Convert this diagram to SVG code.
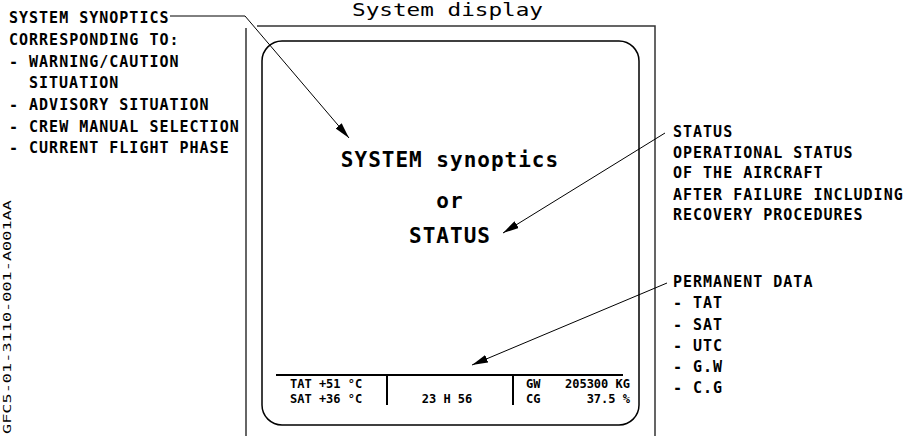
<svg xmlns="http://www.w3.org/2000/svg" width="906" height="436" viewBox="0 0 906 436">
<defs>
<style>
.lbl{font-family:"DejaVu Sans Mono","Liberation Mono",monospace;font-weight:bold;font-size:15px;letter-spacing:1px;fill:#000}
.big{font-family:"DejaVu Sans Mono","Liberation Mono",monospace;font-weight:bold;font-size:21px;letter-spacing:1px;fill:#000}
.bar{font-family:"DejaVu Sans Mono","Liberation Mono",monospace;font-weight:bold;font-size:12px;fill:#000}
.title{font-family:"DejaVu Sans Mono","Liberation Mono",monospace;font-size:17px;fill:#000}
.ref{font-family:"DejaVu Sans Mono","Liberation Mono",monospace;font-size:11px;fill:#000}
.frame{fill:none;stroke:#333;stroke-width:1.5}
.screen{fill:none;stroke:#000;stroke-width:1.5}
.div{stroke:#000;stroke-width:2}
.lead{fill:none;stroke:#000;stroke-width:1}
</style>
<marker id="ah" markerWidth="16" markerHeight="8" refX="16" refY="4" orient="auto" markerUnits="userSpaceOnUse">
<path d="M0,0 L16,4 L0,8 z" fill="#000"/>
</marker>
</defs>

<text class="title" x="352" y="16" textLength="191" lengthAdjust="spacingAndGlyphs">System display</text>

<g id="display-frame">
<path class="frame" d="M257,26 H655 V436"/>
<line class="frame" x1="246" y1="28" x2="246" y2="436"/>
<rect class="screen" x="262" y="41" width="377" height="384" rx="20" ry="20"/>
</g>

<g id="screen-content">
<text class="big" x="450" y="167" text-anchor="middle">SYSTEM synoptics</text>
<text class="big" x="450" y="208" text-anchor="middle">or</text>
<text class="big" x="450" y="243" text-anchor="middle">STATUS</text>
</g>

<g id="permanent-data-bar">
<line class="div" x1="276" y1="375" x2="623" y2="375"/>
<line class="div" x1="387" y1="375" x2="387" y2="405"/>
<line class="div" x1="513" y1="375" x2="513" y2="405"/>
<text class="bar" x="290" y="388">TAT +51 °C</text>
<text class="bar" x="290" y="403">SAT +36 °C</text>
<text class="bar" x="447" y="403" text-anchor="middle">23 H 56</text>
<text class="bar" x="526" y="388">GW</text>
<text class="bar" x="630" y="388" text-anchor="end">205300 KG</text>
<text class="bar" x="526" y="403">CG</text>
<text class="bar" x="630" y="403" text-anchor="end">37.5 %</text>
</g>

<g id="label-synoptics">
<text class="lbl" x="9" y="23">SYSTEM SYNOPTICS</text>
<text class="lbl" x="9" y="45">CORRESPONDING TO:</text>
<text class="lbl" x="9" y="67">- WARNING/CAUTION</text>
<text class="lbl" x="29" y="88">SITUATION</text>
<text class="lbl" x="9" y="110">- ADVISORY SITUATION</text>
<text class="lbl" x="9" y="132">- CREW MANUAL SELECTION</text>
<text class="lbl" x="9" y="153">- CURRENT FLIGHT PHASE</text>
</g>

<g id="label-status">
<text class="lbl" x="673" y="137">STATUS</text>
<text class="lbl" x="673" y="158">OPERATIONAL STATUS</text>
<text class="lbl" x="673" y="178">OF THE AIRCRAFT</text>
<text class="lbl" x="673" y="200">AFTER FAILURE INCLUDING</text>
<text class="lbl" x="673" y="220">RECOVERY PROCEDURES</text>
</g>

<g id="label-permanent">
<text class="lbl" x="673" y="287">PERMANENT DATA</text>
<text class="lbl" x="673" y="308">- TAT</text>
<text class="lbl" x="673" y="330">- SAT</text>
<text class="lbl" x="673" y="351">- UTC</text>
<text class="lbl" x="673" y="372">- G.W</text>
<text class="lbl" x="673" y="393">- C.G</text>
</g>

<g id="connectors">
<polyline class="lead" points="170,16 245,16 349,138" marker-end="url(#ah)"/>
<line class="lead" x1="665" y1="133" x2="503" y2="233" marker-end="url(#ah)"/>
<line class="lead" x1="667" y1="283" x2="472" y2="365" marker-end="url(#ah)"/>
</g>

<text class="ref" transform="translate(11,434) rotate(-90)" x="0" y="0" textLength="234" lengthAdjust="spacingAndGlyphs">GFC5-01-3110-001-A001AA</text>
</svg>
